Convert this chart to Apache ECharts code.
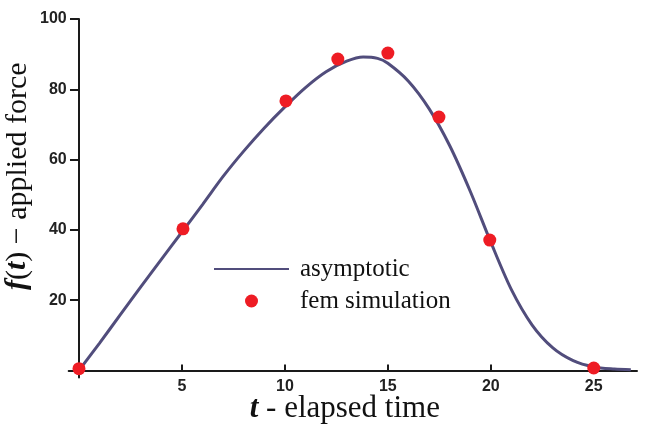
<!DOCTYPE html>
<html><head><meta charset="utf-8">
<script src="https://cdn.jsdelivr.net/npm/echarts@6/dist/echarts.min.js"></script>
<style>html,body{margin:0;padding:0;background:#fff}#c{width:645px;height:425px}</style>
</head><body><div id="c"></div>
<script>
// asymptotic curve
const curveT = [0, 1, 2, 3, 4, 5, 6, 7, 8, 9, 10, 11, 12, 13, 13.8, 14.5, 15, 16, 17, 18, 19, 20, 21, 22, 23, 24, 25, 26, 26.8];
const curveF = [0, 7.8, 15.8, 23.8, 31.6, 39.4, 47.2, 55.2, 62.4, 69, 75, 80.5, 85, 88, 89.2, 88.8, 87.4, 82.3, 74.5, 64, 51, 36.5, 23, 13, 6.5, 2.8, 1, 0.4, 0.2];
// fem simulation points
const femT = [0, 5.05, 10.05, 12.57, 15.0, 17.48, 19.95, 25.0];
const femF = [0.5, 40.3, 76.7, 88.6, 90.3, 72.1, 37.1, 0.7];
const xTicks = [5, 10, 15, 20, 25];
const yTicks = [20, 40, 60, 80, 100];

const chart = echarts.init(document.getElementById('c'), null, {renderer: 'canvas'});
const axisColor = '#1a1a1a';
chart.setOption({
  animation: false,
  backgroundColor: '#fff',
  grid: {left: 68.7, right: 8, top: 19, bottom: 47.5, containLabel: false, outerBoundsMode: 'none'},
  legend: {
    orient: 'vertical', left: 213, top: 256, padding: 0,
    itemWidth: 75, itemHeight: 13, itemGap: 6,
    textStyle: {fontFamily: 'Liberation Serif', fontSize: 25, color: '#111', lineHeight: 26, padding: [0,0,0,6]},
    data: [
      {name: 'asymptotic', itemStyle: {opacity: 0}},
      {name: 'fem simulation', icon: 'circle'}
    ]
  },
  xAxis: {
    type: 'value', min: -0.5, max: 27.1,
    axisLine: {onZero: true, lineStyle: {color: axisColor, width: 2}},
    axisTick: {inside: true, length: 6, customValues: xTicks, lineStyle: {color: axisColor, width: 2}},
    axisLabel: {customValues: xTicks, margin: 1, color: '#222', fontFamily: 'Liberation Sans', fontWeight: 'bold', fontSize: 16},
    splitLine: {show: false},
    name: '{i|t} - elapsed time',
    nameLocation: 'middle', nameGap: 16, nameMoveOverlap: false,
    nameTextStyle: {fontFamily: 'Liberation Serif', fontSize: 31, color: '#111', padding: [0, 16, 0, 0],
      rich: {i: {fontFamily: 'Liberation Serif', fontStyle: 'italic', fontWeight: 'bold', fontSize: 31, color: '#111'}}}
  },
  yAxis: {
    type: 'value', min: -2, max: 100,
    axisLine: {onZero: true, lineStyle: {color: axisColor, width: 2}},
    axisTick: {inside: false, length: 9, customValues: yTicks, lineStyle: {color: axisColor, width: 2}},
    axisLabel: {customValues: yTicks, margin: 2, color: '#222', fontFamily: 'Liberation Sans', fontWeight: 'bold', fontSize: 16},
    splitLine: {show: false},
    name: '{i|f}({i|t}) \u2212 applied force',
    nameLocation: 'middle', nameGap: 36, nameMoveOverlap: false,
    nameTextStyle: {fontFamily: 'Liberation Serif', fontSize: 30, color: '#111', padding: [0, 0, 0, 44],
      rich: {i: {fontFamily: 'Liberation Serif', fontStyle: 'italic', fontWeight: 'bold', fontSize: 30, color: '#111'}}}
  },
  series: [
    {
      name: 'asymptotic', type: 'line', smooth: 0.3, showSymbol: false, symbol: 'none',
      lineStyle: {color: '#514d7c', width: 3}, itemStyle: {color: '#514d7c'},
      data: curveT.map((t, i) => [t, curveF[i]]), z: 2
    },
    {
      name: 'fem simulation', type: 'scatter', symbol: 'circle', symbolSize: 13,
      itemStyle: {color: '#ee1c24', opacity: 1},
      data: femT.map((t, i) => [t, femF[i]]), z: 3
    }
  ]
});
</script></body></html>
